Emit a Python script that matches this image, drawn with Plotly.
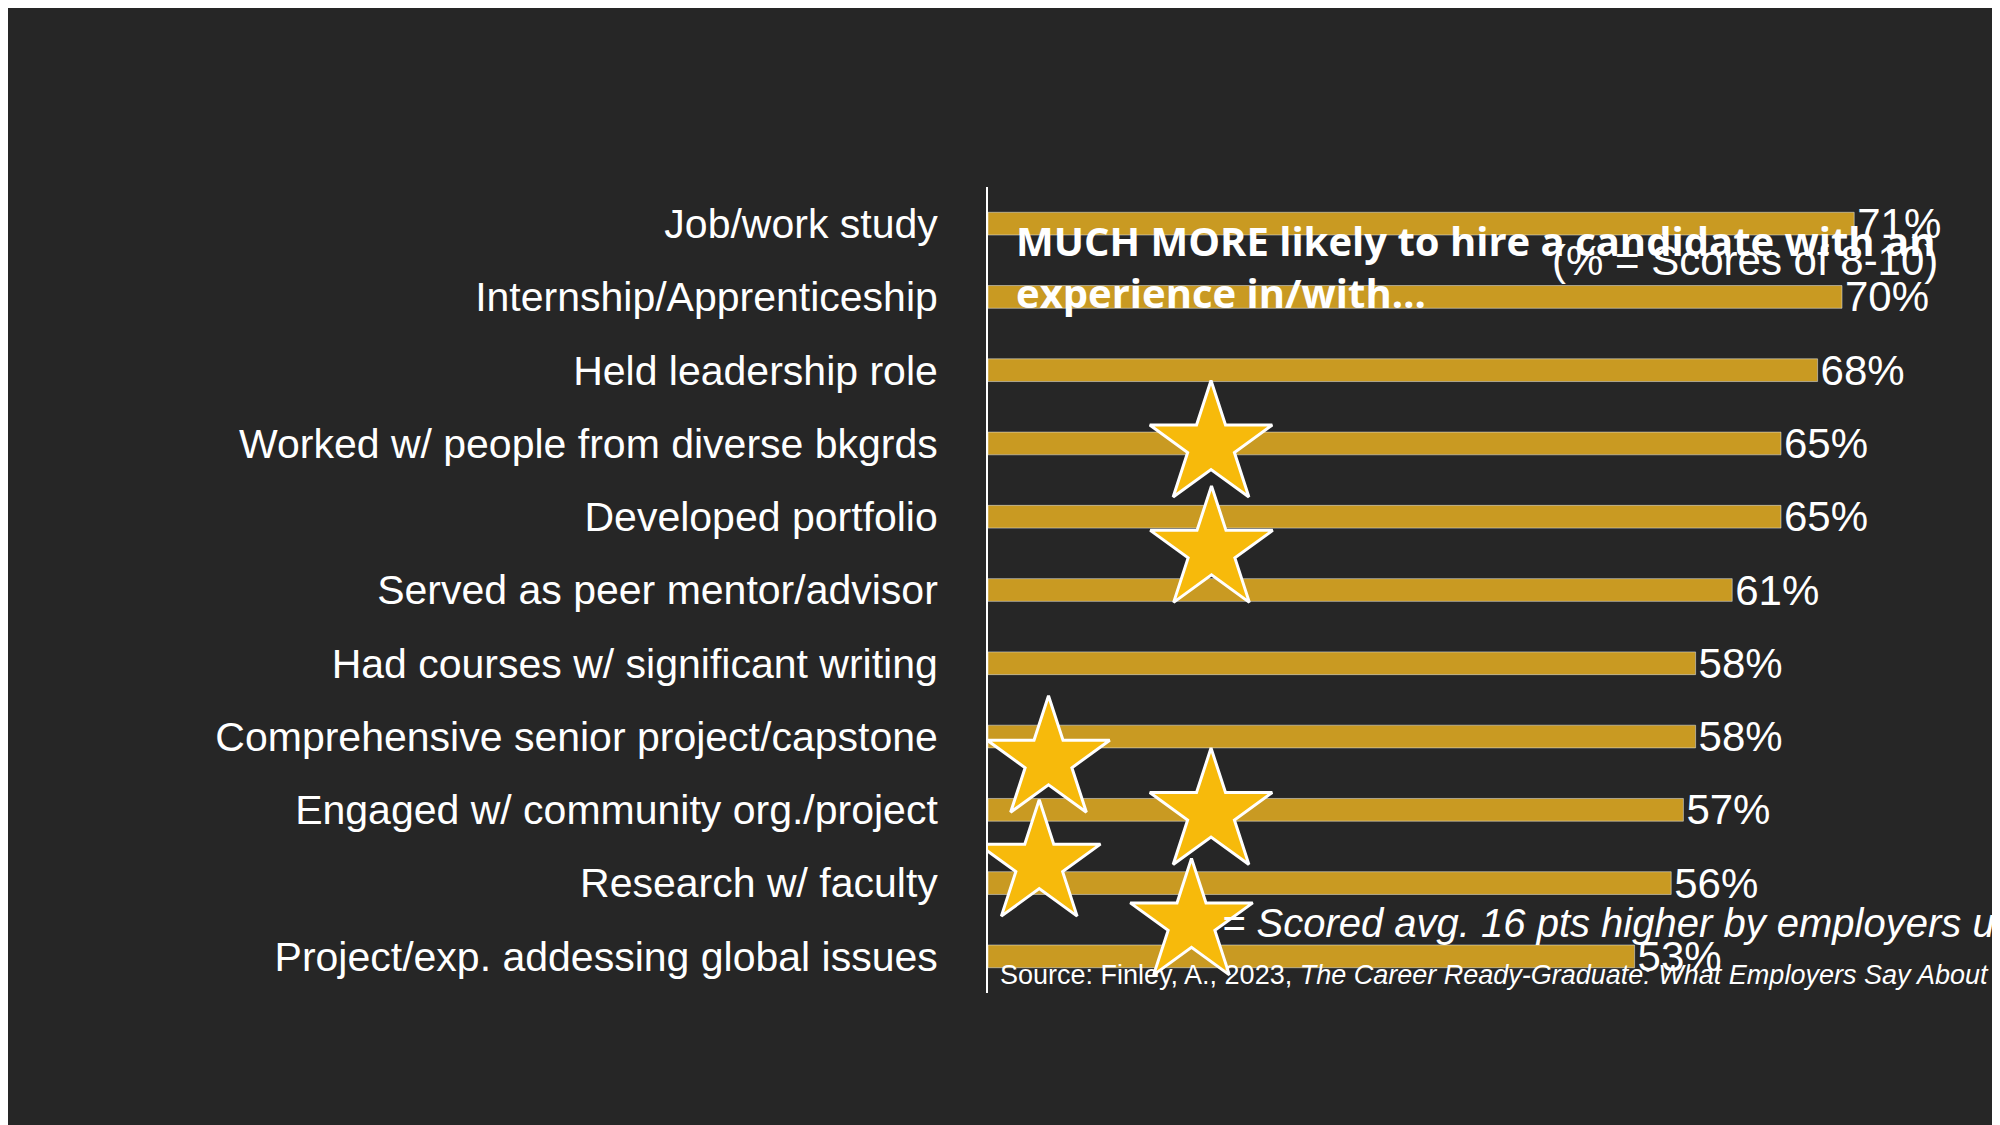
import plotly.graph_objects as go

categories = ["Job/work study", "Internship/Apprenticeship", "Held leadership role",
              "Worked w/ people from diverse bkgrds", "Developed portfolio",
              "Served as peer mentor/advisor", "Had courses w/ significant writing",
              "Comprehensive senior project/capstone", "Engaged w/ community org./project",
              "Research w/ faculty", "Project/exp. addessing global issues"]
values = [71, 70, 68, 65, 65, 61, 58, 58, 57, 56, 53]
# star decorations in page pixels (overlay axis spanning the whole page)
star_px_x = [457, 458, 124, 457, 105, 417]
star_px_y = [360, 507, 800, 873, 945, 1027]

ypos = list(range(len(categories)))
fig = go.Figure()
fig.add_trace(go.Bar(x=values, y=ypos, orientation="h", marker_color="#C99A22",
                     width=0.31, text=[f"{v}%" for v in values], textposition="outside",
                     constraintext="none",
                     textfont=dict(color="white", size=42, family="Liberation Sans"),
                     cliponaxis=False, hoverinfo="skip"))
fig.add_trace(go.Scatter(x=star_px_x, y=star_px_y, xaxis="x2", yaxis="y2", mode="markers",
                         marker=dict(symbol="star", size=92, color="#F7BA0B",
                                     line=dict(color="white", width=3)),
                         hoverinfo="skip"))
fig.update_layout(
    width=2000, height=1125, paper_bgcolor="#262626", plot_bgcolor="rgba(0,0,0,0)",
    showlegend=False, margin=dict(l=980, r=44, t=179, b=140),
    xaxis=dict(range=[0, 80], visible=False, domain=[0, 1]),
    yaxis=dict(range=[10.5, -0.5], tickvals=ypos, ticktext=categories, showgrid=False,
               zeroline=False, showline=True, linecolor="white", linewidth=2, ticks="",
               ticklabelstandoff=40,
               tickfont=dict(color="white", size=41, family="Liberation Sans")),
    xaxis2=dict(range=[0, 2000], visible=False, overlaying="x", anchor="y2", layer="above traces"),
    yaxis2=dict(range=[1125, 0], visible=False, overlaying="y", anchor="x2"),
    annotations=[
        dict(text="<b>MUCH MORE likely to hire a candidate with an<br>experience in/with…</b>",
             xref="x2", yref="y2", x=54, y=34, xanchor="left", yanchor="top",
             align="left", showarrow=False,
             font=dict(color="white", size=40, family="Open Sans")),
        dict(text="(% = Scores of 8-10)", xref="x2", yref="y2", x=1950, y=102,
             xanchor="right", yanchor="middle", showarrow=False,
             font=dict(color="white", size=42, family="Liberation Sans")),
        dict(text="<i>= Scored avg. 16 pts higher by employers under 40 vs. those 50+</i>",
             xref="x2", yref="y2", x=476, y=1027, xanchor="left", yanchor="middle",
             showarrow=False, font=dict(color="white", size=40, family="Liberation Sans")),
        dict(text="Source: Finley, A., 2023, <i>The Career Ready-Graduate: What Employers Say About The Difference College Makes</i>, AAC&U",
             xref="x2", yref="y2", x=20, y=1100, xanchor="left", yanchor="middle",
             showarrow=False, font=dict(color="white", size=27, family="Liberation Sans")),
    ],
)
fig.write_html("out.html")
